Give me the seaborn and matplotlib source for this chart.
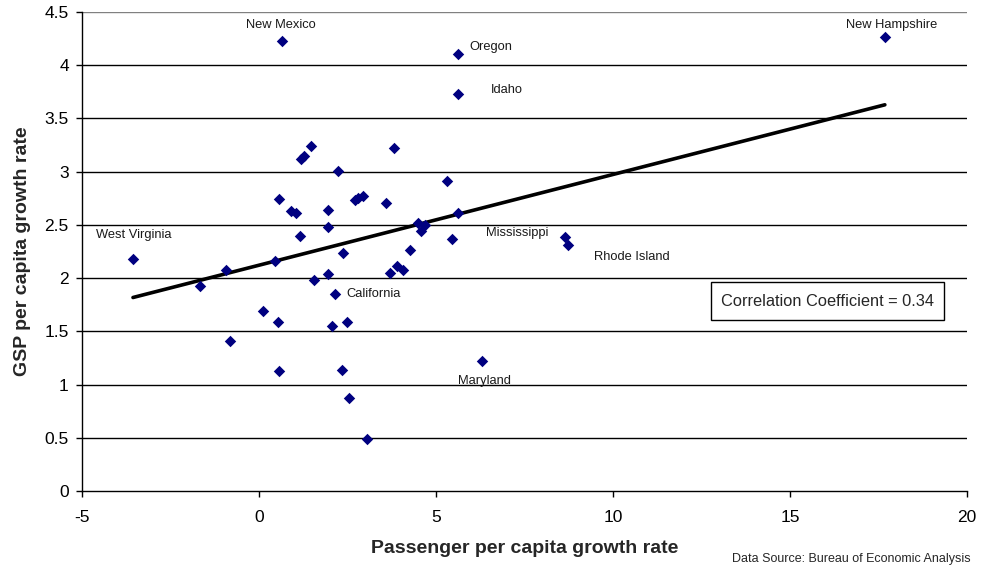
import matplotlib
matplotlib.use("Agg")
import matplotlib.pyplot as plt
from matplotlib.patches import Rectangle
import seaborn as sns
import pandas as pd
import numpy as np

# Data
passenger_growth = [-3.56, -0.93, -1.67, 0.45, 0.11, 0.53, 0.57, 0.90, 1.04, 1.15,
                    1.19, 1.28, 1.47, 1.56, 1.94, 1.94, 1.94, 2.24, 2.36, 2.15,
                    2.71, 2.81, 2.93, 3.81, 3.58, 3.70, 3.89, 4.08, 4.27, 4.50,
                    4.69, 4.58, 5.30, 5.44, 5.61, 2.07, 2.49, 0.57, 2.35, 2.55,
                    3.06, -0.82, 6.30, 8.64, 8.74, 5.62, 5.62, 0.65, 17.68]
gsp_growth = [2.18, 2.08, 1.93, 2.16, 1.69, 1.59, 2.74, 2.63, 2.61, 2.40,
              3.12, 3.15, 3.24, 1.98, 2.64, 2.48, 2.04, 3.01, 2.24, 1.85,
              2.73, 2.75, 2.77, 3.22, 2.71, 2.05, 2.11, 2.08, 2.26, 2.52,
              2.50, 2.44, 2.91, 2.37, 2.61, 1.55, 1.59, 1.13, 1.14, 0.87,
              0.49, 1.41, 1.22, 2.39, 2.31, 4.11, 3.73, 4.23, 4.27]
state_labels = {0: "West Virginia", 19: "California", 42: "Maryland",
                43: "Mississippi", 44: "Rhode Island", 45: "Oregon",
                46: "Idaho", 47: "New Mexico", 48: "New Hampshire"}
x_ticks = [-5, 0, 5, 10, 15, 20]
y_ticks = [0, 0.5, 1, 1.5, 2, 2.5, 3, 3.5, 4, 4.5]
y_tick_labels = ["0", "0.5", "1", "1.5", "2", "2.5", "3", "3.5", "4", "4.5"]
correlation_text = "Correlation Coefficient = 0.34"

df = pd.DataFrame({"passenger": passenger_growth, "gsp": gsp_growth})

sns.set_theme(style="white")
plt.rcParams['font.family'] = ['Liberation Sans', 'DejaVu Sans']

fig = plt.figure(figsize=(9.81, 5.67), dpi=100)
ax = fig.add_axes([0.0836, 0.134, 0.9021, 0.8448])

for y in y_ticks[1:]:
    ax.axhline(y, color="black" if y < 4.5 else "#808080", lw=1, zorder=1)

sns.regplot(data=df, x="passenger", y="gsp", ax=ax, ci=None, truncate=True, marker="D",
            scatter_kws=dict(s=34, color="#000080", alpha=1, linewidths=0, zorder=3),
            line_kws=dict(color="black", lw=2.6, zorder=2))

offsets = {"West Virginia": (-26.6, 17.3, "left"), "California": (8, 0, "left"),
           "Maryland": (-17, -14.4, "left"), "Mississippi": (-57, 2.9, "left"),
           "Rhode Island": (18.7, -8.6, "left"), "Oregon": (8, 5, "left"),
           "Idaho": (23.8, 2.9, "left"), "New Mexico": (-0.7, 11.5, "center"),
           "New Hampshire": (5, 8.6, "center")}
for idx, name in state_labels.items():
    dx, dy, ha = offsets[name]
    ax.annotate(name, (passenger_growth[idx], gsp_growth[idx]), xytext=(dx, dy),
                textcoords="offset points", ha=ha, va="center", fontsize=9.3, color="#1a1a1a")

ax.set_xlim(-5, 20)
ax.set_ylim(0, 4.5)
ax.set_xticks(x_ticks)
ax.set_xticklabels([str(t) for t in x_ticks])
ax.set_yticks(y_ticks)
ax.set_yticklabels(y_tick_labels)
ax.tick_params(axis="both", direction="out", length=4.5, width=1, color="black",
               labelsize=12.5, labelcolor="black", bottom=True, left=True)
ax.tick_params(axis="x", pad=9)
ax.tick_params(axis="y", pad=5)
for s in ["top", "right"]:
    ax.spines[s].set_visible(False)
for s in ["left", "bottom"]:
    ax.spines[s].set_color("black")
    ax.spines[s].set_linewidth(1)

ax.set_xlabel("Passenger per capita growth rate", fontsize=14, fontweight="bold", labelpad=11)
ax.set_ylabel("GSP per capita growth rate", fontsize=14, fontweight="bold", labelpad=10)

ax.add_patch(Rectangle((0.711, 0.357), 0.263, 0.0793, transform=ax.transAxes,
                       fc="white", ec="black", lw=1, zorder=4))
ax.text(0.8425, 0.3965, correlation_text, transform=ax.transAxes, ha="center", va="center",
        fontsize=11.8, zorder=5)

fig.text(0.746, 0.003, "Data Source: Bureau of Economic Analysis", fontsize=9, ha="left", va="bottom")

fig.savefig("out.png", dpi=100)
